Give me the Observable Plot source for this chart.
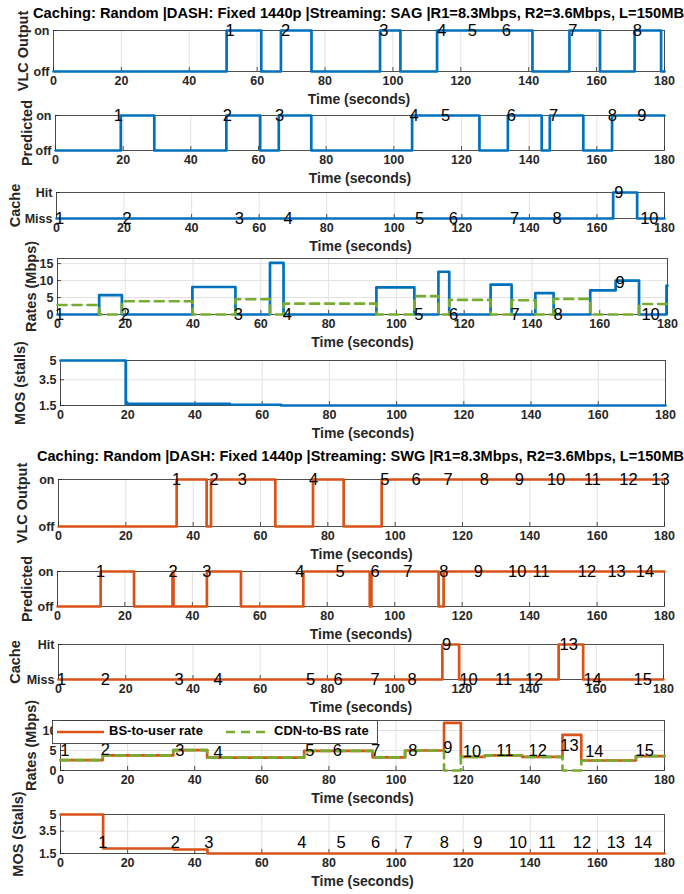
<!DOCTYPE html>
<html><head><meta charset="utf-8">
<script src="https://cdn.jsdelivr.net/npm/d3@7"></script>
<script src="https://cdn.jsdelivr.net/npm/@observablehq/plot@0.6"></script>
<style>
body{margin:0;background:#fff;}
#root{position:relative;width:684px;height:894px;overflow:hidden;font-family:"Liberation Sans",Arial,sans-serif;}
#root svg{position:absolute;left:0;overflow:visible;}
</style></head><body><div id="root"></div>
<script>
// ---------- shared ----------
const xTicks = [0, 20, 40, 60, 80, 100, 120, 140, 160, 180];
const onOffLabels = ["off", "on"];
const cacheLabels = ["Miss", "Hit"];
const titles = [
  "Caching: Random |DASH: Fixed 1440p |Streaming: SAG |R1=8.3Mbps, R2=3.6Mbps, L=150MB",
  "Caching: Random |DASH: Fixed 1440p |Streaming: SWG |R1=8.3Mbps, R2=3.6Mbps, L=150MB"
];
const legendNames = ["BS-to-user rate", "CDN-to-BS rate"];

// ---------- SAG ----------
const sagVlcT = [0, 51, 61.2, 67, 76, 96.2, 102.2, 113, 141.1, 152, 161, 171.2, 179, 180];
const sagVlcV = [0, 1, 0, 1, 0, 1, 0, 1, 0, 1, 0, 1, 0, 0];
const sagVlcLabT = [52, 68.4, 97.3, 114.4, 123.4, 133.4, 153, 172];
const sagVlcLabV = [1, 1, 1, 1, 1, 1, 1, 1];

const sagPredT = [0, 19.3, 29.2, 50.5, 60.5, 66, 75.6, 105.4, 125.3, 133.7, 143.7, 146.1, 156, 164.5, 180];
const sagPredV = [0, 1, 0, 1, 0, 1, 0, 1, 0, 1, 0, 1, 0, 1, 1];
const sagPredLabT = [18.6, 50.8, 66.2, 106, 115.3, 134.7, 147.2, 164.6, 173.3];
const sagPredLabV = [1, 1, 1, 1, 1, 1, 1, 1, 1];

const sagCacheT = [0, 164.8, 171.9, 180];
const sagCacheV = [0, 1, 0, 0];
const sagCacheLabT = [0.9, 20.9, 54.1, 68.6, 107.5, 117.5, 135.6, 148.2, 166.5, 175.5];
const sagCacheLabV = [0, 0, 0, 0, 0, 0, 0, 0, 1, 0];

const sagRateT = [0, 12.3, 19, 39.8, 52.5, 62.7, 66.7, 94.1, 105.3, 112.4, 115.6, 127.8, 134, 141, 146.4, 157.2, 164.7, 171.6, 179.7, 180];
const sagBsV   = [0, 5.7, 0, 8.1, 0, 15.2, 0, 8.0, 0, 12.6, 0, 8.8, 0, 6.3, 0, 7.1, 10, 0, 8.5, 8.5];
const sagCdnV  = [2.8, 0, 3.9, 0, 4.5, 0, 3.2, 0, 5.4, 0, 4.3, 0, 4.2, 0, 4.6, 0, 0, 3.1, 3.1, 3.1];
const sagRateLabT = [0.6, 20, 53.4, 67.8, 106.6, 116.9, 135, 147.7, 166, 175];
const sagRateLabV = [0, 0, 0, 0, 0, 0, 0, 0, 9.5, 0];

const sagMosT = [0, 19.4, 50.4, 65.6, 180];
const sagMosV = [5, 1.62, 1.56, 1.5, 1.5];

// ---------- SWG ----------
const swgVlcT = [0, 35.1, 44, 45.3, 64.4, 75.6, 84.7, 96, 180];
const swgVlcV = [0, 1, 0, 1, 0, 1, 0, 1, 1];
const swgVlcLabT = [35.1, 46.2, 54.6, 75.8, 96.9, 106.2, 115.7, 126.5, 136.9, 147.8, 158.6, 169.3, 178.8];
const swgVlcLabV = [1, 1, 1, 1, 1, 1, 1, 1, 1, 1, 1, 1, 1];

const swgPredT = [0, 12.8, 22.7, 34.1, 34.4, 44.3, 54.4, 72.9, 92.6, 93.1, 113, 114.5, 180];
const swgPredV = [0, 1, 0, 1, 0, 1, 0, 1, 0, 1, 0, 1, 1];
const swgPredLabT = [12.8, 34.3, 44.3, 71.9, 83.8, 94.2, 103.9, 114.6, 124.8, 136.3, 143.4, 157, 165.8, 174.2];
const swgPredLabV = [1, 1, 1, 1, 1, 1, 1, 1, 1, 1, 1, 1, 1, 1];

const swgCacheT = [0, 114.2, 119.2, 148.8, 156.1, 180];
const swgCacheV = [0, 1, 0, 1, 0, 0];
const swgCacheLabT = [0.9, 13.9, 35.9, 47.5, 75, 83.2, 94.2, 105.2, 115.5, 122, 132.4, 141.5, 151.8, 158.9, 173.8];
const swgCacheLabV = [0, 0, 0, 0, 0, 0, 0, 0, 1, 0, 0, 0, 1, 0, 0];

const swgRateT = [0, 12.6, 33.6, 43.7, 72.6, 93, 102.7, 114.3, 119.3, 126.5, 137.6, 149.6, 155.2, 171.5, 180];
const swgBsV   = [2.6, 3.8, 5.1, 3.2, 4.9, 3.3, 5.0, 11.9, 3.4, 3.8, 3.4, 8.9, 2.5, 3.6, 3.6];
const swgCdnV  = [2.6, 3.8, 5.1, 3.2, 4.9, 3.3, 5.0, 0, 3.4, 3.8, 3.4, 0, 2.5, 3.6, 3.6];
const swgRateLabT = [1.3, 13.4, 35.6, 47, 74.3, 82.5, 93.9, 105, 115.4, 122.6, 132.4, 142.2, 151.7, 159.1, 174.1];
const swgRateLabV = [4.9, 5.2, 4.9, 4.4, 4.9, 4.9, 4.9, 4.9, 5.6, 4.6, 4.9, 4.9, 6.2, 4.6, 4.9];

const swgMosT = [0, 12.7, 33.8, 43.8, 180];
const swgMosV = [5, 1.95, 1.86, 1.5, 1.5];
const swgMosLabT = [12.6, 34.2, 44.2, 71.9, 83.6, 93.9, 103.6, 114.4, 124.4, 136.3, 145, 155.4, 165.5, 173.6];
const swgMosLabV = [2.45, 2.45, 2.45, 2.45, 2.45, 2.45, 2.45, 2.45, 2.45, 2.45, 2.45, 2.45, 2.45, 2.45];

// ---------- styling ----------
const BLUE = "#0072BD", ORANGE = "#D95319", GREEN = "#77AC30";
const FONT = "'Liberation Sans', Arial, sans-serif";
const root = document.getElementById("root");

function stepLine(T, V, stroke, dashed) {
  return Plot.line(d3.range(T.length), {
    x: i => T[i], y: i => V[i], curve: "step-after",
    stroke, strokeWidth: 2.7, strokeDasharray: dashed ? "9,6" : null
  });
}
function numLabels(T, V) {
  return Plot.text(d3.range(T.length), {
    x: i => T[i], y: i => V[i], text: i => String(i + 1),
    fontSize: 16.5, fill: "#000", textAnchor: "middle", lineAnchor: "middle"
  });
}

function panel(cfg) {
  const {box, yDomain, yTicks, yFormat, yLabel, yLabelX, lines, labels, gridY} = cfg;
  const mt = 14, mb = 42;
  const h = box.bottom - box.top;
  const w = box.right - box.left;
  const marks = [
    Plot.gridX(xTicks, {stroke: "#e2e2e2", strokeOpacity: 1}),
    gridY ? Plot.gridY(yTicks, {stroke: "#e2e2e2", strokeOpacity: 1}) : null,
    // inward tick marks (MATLAB style)
    Plot.tickX(xTicks, {x: d => d, insetTop: h - 4, stroke: "#262626", strokeWidth: 0.8}),
    Plot.tickY(yTicks, {y: d => d, insetRight: w - 4, stroke: "#262626", strokeWidth: 0.8}),
    Plot.frame({stroke: "#262626", strokeWidth: 0.8}),
    Plot.axisX(xTicks, {tickSize: 0, tickPadding: 5, label: null, fontWeight: "bold", fontSize: 12.5, fill: "#262626"}),
    Plot.axisY(yTicks, {tickSize: 0, tickPadding: 4, label: null, tickFormat: yFormat, fontWeight: "bold", fontSize: 12.5, fill: "#262626"}),
    Plot.text(["Time (seconds)"], {text: d => d, frameAnchor: "bottom", dy: 28, lineAnchor: "middle", fontWeight: "bold", fontSize: 14, fill: "#262626"}),
    Plot.text([yLabel], {text: d => d, frameAnchor: "left", dx: yLabelX - box.left, rotate: -90, textAnchor: "middle", lineAnchor: "middle", fontWeight: "bold", fontSize: 14.5, fill: "#262626"}),
    ...lines,
    labels
  ].filter(Boolean);
  const svg = Plot.plot({
    width: 684, height: mt + h + mb,
    marginTop: mt, marginBottom: mb, marginLeft: box.left, marginRight: 684 - box.right,
    x: {domain: [0, 180]}, y: {domain: yDomain},
    style: {fontFamily: FONT, background: "transparent", overflow: "visible"},
    marks
  });
  svg.style.top = (box.top - mt) + "px";
  root.appendChild(svg);
}

const onOff = {yDomain: [0, 1], yTicks: [0, 1], yFormat: d => onOffLabels[d]};
const hitMiss = {yDomain: [0, 1], yTicks: [0, 1], yFormat: d => cacheLabels[d]};
const rateFmt = d => String(d);

// SAG panels
panel({...onOff, box: {left: 53, right: 664, top: 30, bottom: 71}, yLabel: "VLC Output", yLabelX: 23,
  lines: [stepLine(sagVlcT, sagVlcV, BLUE)], labels: numLabels(sagVlcLabT, sagVlcLabV)});
panel({...onOff, box: {left: 55, right: 664, top: 115, bottom: 150}, yLabel: "Predicted", yLabelX: 27,
  lines: [stepLine(sagPredT, sagPredV, BLUE)], labels: numLabels(sagPredLabT, sagPredLabV)});
panel({...hitMiss, box: {left: 56, right: 664, top: 192, bottom: 218}, yLabel: "Cache", yLabelX: 15,
  lines: [stepLine(sagCacheT, sagCacheV, BLUE)], labels: numLabels(sagCacheLabT, sagCacheLabV)});
panel({box: {left: 57, right: 667, top: 258, bottom: 314}, yDomain: [0, 16.5], yTicks: [0, 5, 10, 15], yFormat: rateFmt, gridY: true,
  yLabel: "Rates (Mbps)", yLabelX: 31,
  lines: [stepLine(sagRateT, sagBsV, BLUE), stepLine(sagRateT, sagCdnV, GREEN, true)], labels: numLabels(sagRateLabT, sagRateLabV)});
panel({box: {left: 60, right: 665, top: 360, bottom: 405}, yDomain: [1.5, 5], yTicks: [1.5, 3.5, 5], yFormat: rateFmt, gridY: true,
  yLabel: "MOS (stalls)", yLabelX: 20,
  lines: [stepLine(sagMosT, sagMosV, BLUE)], labels: null});

// SWG panels
panel({...onOff, box: {left: 58, right: 664, top: 479, bottom: 526}, yLabel: "VLC Output", yLabelX: 22,
  lines: [stepLine(swgVlcT, swgVlcV, ORANGE)], labels: numLabels(swgVlcLabT, swgVlcLabV)});
panel({...onOff, box: {left: 57, right: 664, top: 571, bottom: 606}, yLabel: "Predicted", yLabelX: 27,
  lines: [stepLine(swgPredT, swgPredV, ORANGE)], labels: numLabels(swgPredLabT, swgPredLabV)});
panel({...hitMiss, box: {left: 58, right: 663, top: 644, bottom: 679}, yLabel: "Cache", yLabelX: 15,
  lines: [stepLine(swgCacheT, swgCacheV, ORANGE)], labels: numLabels(swgCacheLabT, swgCacheLabV)});
panel({box: {left: 60, right: 664, top: 720, bottom: 770}, yDomain: [0, 12.5], yTicks: [0, 5, 10], yFormat: rateFmt, gridY: true,
  yLabel: "Rates (Mbps)", yLabelX: 31,
  lines: [stepLine(swgRateT, swgBsV, ORANGE), stepLine(swgRateT, swgCdnV, GREEN, true)], labels: numLabels(swgRateLabT, swgRateLabV)});
panel({box: {left: 60, right: 664, top: 814, bottom: 853}, yDomain: [1.5, 5], yTicks: [1.5, 3.5, 5], yFormat: rateFmt, gridY: true,
  yLabel: "MOS (Stalls)", yLabelX: 18,
  lines: [stepLine(swgMosT, swgMosV, ORANGE)], labels: numLabels(swgMosLabT, swgMosLabV)});

// titles
const ns = "http://www.w3.org/2000/svg";
const tsvg = document.createElementNS(ns, "svg");
tsvg.setAttribute("width", 684); tsvg.setAttribute("height", 894);
tsvg.style.top = "0px"; tsvg.style.pointerEvents = "none";
[[33, 14, 651], [37, 457, 647]].forEach(([x, y, len], k) => {
  const t = document.createElementNS(ns, "text");
  t.setAttribute("x", x); t.setAttribute("y", y);
  t.setAttribute("dominant-baseline", "middle");
  t.setAttribute("font-family", FONT); t.setAttribute("font-weight", "bold"); t.setAttribute("font-size", 14);
  t.setAttribute("textLength", len); t.setAttribute("lengthAdjust", "spacingAndGlyphs");
  t.textContent = titles[k];
  tsvg.appendChild(t);
});
root.appendChild(tsvg);

// legend (SWG rates panel)
const lg = document.createElementNS(ns, "svg");
lg.setAttribute("width", 326); lg.setAttribute("height", 24);
lg.style.left = "52px"; lg.style.top = "720px";
lg.innerHTML = `<rect x="0.5" y="0.5" width="325" height="23" fill="#fff" stroke="#262626" stroke-width="0.8"/>
<line x1="5" x2="52" y1="12" y2="12" stroke="${ORANGE}" stroke-width="2.7"/>
<text x="57" y="12" dominant-baseline="middle" font-family="${FONT}" font-weight="bold" font-size="13" fill="#000">${legendNames[0]}</text>
<line x1="174" x2="216" y1="12" y2="12" stroke="${GREEN}" stroke-width="2.7" stroke-dasharray="9,6"/>
<text x="222" y="12" dominant-baseline="middle" font-family="${FONT}" font-weight="bold" font-size="13" fill="#000">${legendNames[1]}</text>`;
root.appendChild(lg);
</script></body></html>
